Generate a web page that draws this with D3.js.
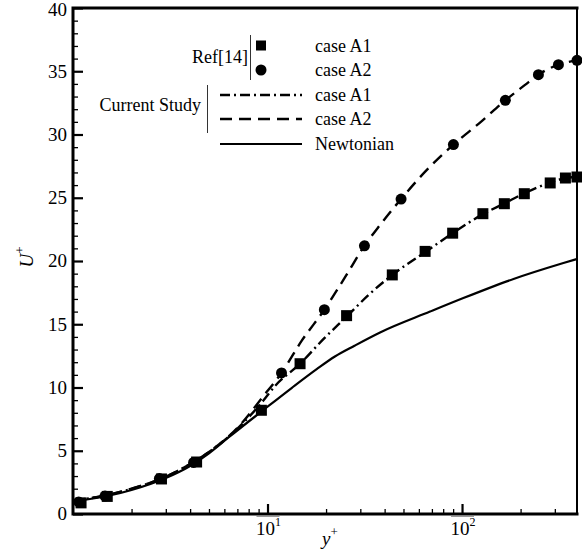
<!DOCTYPE html>
<html>
<head>
<meta charset="utf-8">
<script src="https://cdn.jsdelivr.net/npm/d3@7"></script>
<style>
  html, body { margin: 0; padding: 0; background: #fff; }
  svg { display: block; font-family: "Liberation Serif", "Times New Roman", serif; }
</style>
</head>
<body>
<svg id="chart" width="582" height="554"></svg>
<script>
// Reference data, Ref[14]
const refA1Y = [1.1, 1.5, 2.85, 4.32, 9.3, 14.7, 25.5, 43.8, 64.6, 89.5, 128, 165, 209, 284, 340, 390];
const refA1U = [0.88, 1.39, 2.77, 4.11, 8.2, 11.88, 15.68, 18.9, 20.76, 22.2, 23.74, 24.53, 25.32, 26.17, 26.56, 26.64];
const refA2Y = [1.07, 1.46, 2.78, 4.17, 11.8, 19.6, 31.5, 48.6, 90.3, 167, 247, 313, 390];
const refA2U = [0.95, 1.42, 2.8, 4.08, 11.15, 16.15, 21.2, 24.9, 29.2, 32.7, 34.73, 35.52, 35.86];

// Current study profiles
const curA1Y = [1, 1.5, 2, 3, 4, 5, 7, 9.5, 10.9, 14.7, 19.6, 25.5, 33, 43.8, 64.6, 89.5, 128, 165, 209, 284, 340, 390];
const curA1U = [1.05, 1.5, 2.0, 2.95, 3.95, 4.9, 6.75, 8.95, 10.1, 11.88, 13.9, 15.6, 17.3, 18.9, 20.7, 22.2, 23.7, 24.55, 25.35, 26.2, 26.55, 26.65];
const curA2Y = [1, 1.5, 2, 3, 4, 5, 7, 9.5, 11.8, 15, 19.6, 25, 31.5, 37.9, 48.6, 65, 90.3, 125, 167, 210, 247, 313, 390];
const curA2U = [1.05, 1.5, 2.0, 2.95, 3.95, 4.9, 6.8, 9.3, 11.15, 13.7, 16.15, 18.7, 21.2, 22.85, 24.9, 27.1, 29.2, 31.0, 32.7, 33.9, 34.73, 35.52, 35.86];
const newtY = [1, 1.5, 2, 3, 4, 5, 6.3, 9.3, 13.3, 17.9, 22.2, 28, 37.9, 68.5, 101.6, 184, 332, 390];
const newtU = [1.0, 1.42, 1.9, 2.85, 3.8, 4.8, 6.05, 8.1, 9.96, 11.45, 12.45, 13.3, 14.35, 16.0, 17.07, 18.58, 19.84, 20.16];

// Axis ticks
const xMajor = [10, 100];
const xMajorLabels = ["1", "2"];
const xMinor = [2, 3, 4, 5, 6, 7, 8, 9, 20, 30, 40, 50, 60, 70, 80, 90, 200, 300];
const yMajor = [0, 5, 10, 15, 20, 25, 30, 35, 40];
const yMinor = d3.range(0, 41).filter(v => v % 5 !== 0);

const legendRef = ["case A1", "case A2"];
const legendCur = ["case A1", "case A2", "Newtonian"];

const svg = d3.select("#chart");
const m = { left: 73, top: 8, right: 5, bottom: 40 };
const W = 582 - m.left - m.right;
const H = 554 - m.top - m.bottom;

const x = d3.scaleLog().domain([1, 390]).range([0, W]);
const y = d3.scaleLinear().domain([0, 40]).range([H, 0]);

const g = svg.append("g").attr("transform", `translate(${m.left},${m.top})`);

svg.append("defs").append("clipPath").attr("id", "plotclip")
  .append("rect").attr("x", -1).attr("y", -1).attr("width", W + 2).attr("height", H + 2);

const zip = (a, b) => a.map((v, i) => [v, b[i]]);
const line = d3.line().x(d => x(d[0])).y(d => y(d[1])).curve(d3.curveMonotoneX);

const curves = g.append("g").attr("clip-path", "url(#plotclip)");
curves.append("path").datum(zip(newtY, newtU)).attr("d", line)
  .attr("fill", "none").attr("stroke", "#000").attr("stroke-width", 2.2);
curves.append("path").datum(zip(curA1Y, curA1U)).attr("d", line)
  .attr("fill", "none").attr("stroke", "#000").attr("stroke-width", 2.4)
  .attr("stroke-dasharray", "10,4,2,4");
curves.append("path").datum(zip(curA2Y, curA2U)).attr("d", line)
  .attr("fill", "none").attr("stroke", "#000").attr("stroke-width", 2.4)
  .attr("stroke-dasharray", "12,7");

// Markers: circles first, squares on top
const MS = 11;
g.append("g").selectAll("circle").data(zip(refA2Y, refA2U)).join("circle")
  .attr("cx", d => x(d[0])).attr("cy", d => y(d[1])).attr("r", MS / 2).attr("fill", "#000");
g.append("g").selectAll("rect").data(zip(refA1Y, refA1U)).join("rect")
  .attr("x", d => x(d[0]) - MS / 2).attr("y", d => y(d[1]) - MS / 2)
  .attr("width", MS).attr("height", MS).attr("fill", "#000");

// Ticks (pointing into the plot)
const xAxisMinor = d3.axisBottom(x).tickValues(xMinor).tickSize(-5).tickFormat("");
const xAxisMajor = d3.axisBottom(x).tickValues(xMajor).tickSize(-10).tickFormat("");
const yAxisMinor = d3.axisLeft(y).tickValues(yMinor).tickSize(-5).tickFormat("");
const yAxisMajor = d3.axisLeft(y).tickValues(yMajor).tickSize(-10).tickFormat("");

function styleAxis(sel, w) {
  sel.select(".domain").remove();
  sel.selectAll(".tick line").attr("stroke", "#000").attr("stroke-width", w);
}
g.append("g").attr("transform", `translate(0,${H})`).call(xAxisMinor).call(s => styleAxis(s, 1.3));
g.append("g").attr("transform", `translate(0,${H})`).call(xAxisMajor).call(s => styleAxis(s, 2.2));
g.append("g").call(yAxisMinor).call(s => styleAxis(s, 1.3));
g.append("g").call(yAxisMajor).call(s => styleAxis(s, 2.2));

// Frame
g.append("line").attr("x1", W).attr("x2", W).attr("y1", 0).attr("y2", H)
  .attr("stroke", "#000").attr("stroke-width", 2);
g.append("path").attr("d", `M${W},0H0V${H}H${W}`)
  .attr("fill", "none").attr("stroke", "#000").attr("stroke-width", 3).attr("stroke-linecap", "square");

// Y tick labels
g.append("g").selectAll("text").data(yMajor).join("text")
  .attr("x", -6).attr("y", d => y(d) + (d === 40 ? 2 : 0)).attr("dy", "0.34em")
  .attr("text-anchor", "end").attr("font-size", 19).text(d => d);

// X tick labels: 10 with superscript exponent
xMajor.forEach((v, i) => {
  const t = g.append("text").attr("x", x(v) + 1).attr("y", H + 21)
    .attr("text-anchor", "middle").attr("font-size", 19);
  t.append("tspan").text("10");
  t.append("tspan").attr("font-size", 12).attr("dy", -9).text(xMajorLabels[i]);
  g.append("line").attr("x1", x(v) - 11).attr("x2", x(v) + 12)
    .attr("y1", H + 2.5).attr("y2", H + 2.5).attr("stroke", "#999").attr("stroke-width", 1);
});

// Axis titles
const xt = svg.append("text").attr("x", 330).attr("y", 545)
  .attr("text-anchor", "middle").attr("font-size", 19);
xt.append("tspan").attr("font-style", "italic").text("y");
xt.append("tspan").attr("font-size", 13).attr("dy", -9).text("+");

const yt = svg.append("text").attr("transform", "translate(33,257) rotate(-90)")
  .attr("text-anchor", "middle").attr("font-size", 19);
yt.append("tspan").attr("font-style", "italic").text("U");
yt.append("tspan").attr("font-size", 13).attr("dy", -9).text("+");

// Legend
const lg = svg.append("g").attr("font-size", 18);
lg.append("text").attr("x", 248).attr("y", 63).attr("text-anchor", "end").text("Ref[14]");
lg.append("line").attr("x1", 250.5).attr("x2", 250.5).attr("y1", 35).attr("y2", 80)
  .attr("stroke", "#333").attr("stroke-width", 1);
lg.append("rect").attr("x", 261 - 5).attr("y", 45.5 - 5).attr("width", 10).attr("height", 10).attr("fill", "#000");
lg.append("circle").attr("cx", 261).attr("cy", 70).attr("r", 5.5).attr("fill", "#000");
const refRows = [51.5, 76];
legendRef.forEach((s, i) => lg.append("text").attr("x", 315).attr("y", refRows[i]).text(s));

lg.append("text").attr("x", 201).attr("y", 111).attr("text-anchor", "end").text("Current Study");
lg.append("line").attr("x1", 207.5).attr("x2", 207.5).attr("y1", 85).attr("y2", 133)
  .attr("stroke", "#333").attr("stroke-width", 1);
const curRows = [95, 119, 144];
const curDash = ["10,4,2,4", "12,7", null];
legendCur.forEach((s, i) => {
  const l = lg.append("line").attr("x1", 220).attr("x2", 302).attr("y1", curRows[i]).attr("y2", curRows[i])
    .attr("stroke", "#000").attr("stroke-width", i === 2 ? 2.2 : 2.4);
  if (curDash[i]) l.attr("stroke-dasharray", curDash[i]);
  lg.append("text").attr("x", 315).attr("y", curRows[i] + 6).text(s);
});
</script>
</body>
</html>
